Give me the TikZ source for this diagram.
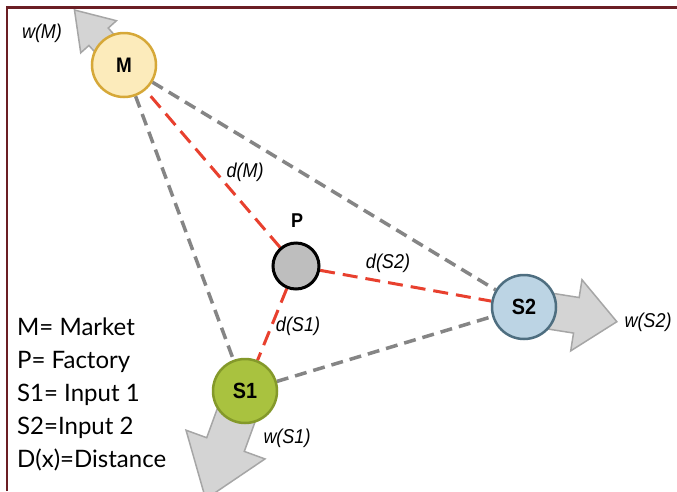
\documentclass[tikz,border=0pt]{standalone}
\usepackage{fontspec}
\setmainfont{Liberation Sans}
\newfontfamily\lblfont[FakeStretch=0.9]{Liberation Sans}
\newfontfamily\legfont{Lato}
\usetikzlibrary{backgrounds}
\definecolor{frameclr}{HTML}{6B1E24}
\definecolor{mfill}{HTML}{FCEBBB}
\definecolor{mdraw}{HTML}{D6A838}
\definecolor{s1fill}{HTML}{A9C23F}
\definecolor{s1draw}{HTML}{84992A}
\definecolor{s2fill}{HTML}{BCD4E4}
\definecolor{s2draw}{HTML}{4E6E80}
\definecolor{pfill}{HTML}{BEBEBE}
\definecolor{graydash}{HTML}{858585}
\definecolor{reddash}{HTML}{E8402E}
\definecolor{arrfill}{HTML}{D4D4D4}
\definecolor{arrdraw}{HTML}{A6A6A6}
\newcommand\fatarrow[7]{%
  \begin{scope}[shift={(#1)},rotate=#2]
    \draw[arrowsty] (0,-#4) -- (#6,-#4) -- (#6,-#5) -- (#3,0) -- (#6,#5) -- (#6,#4) -- (0,#4) -- cycle;
  \end{scope}}
\tikzset{
  site/.style={circle, minimum size=64pt, inner sep=0pt, line width=2.5pt,
    font=\lblfont\bfseries\fontsize{22}{24}\selectfont},
  trilink/.style={draw=graydash, line width=3.5pt, dash pattern=on 12pt off 7pt},
  plink/.style={draw=reddash, line width=3pt, dash pattern=on 15pt off 8pt},
  arrowsty/.style={fill=arrfill, draw=arrdraw, line width=1.5pt, line join=miter},
  lbl/.style={font=\lblfont\itshape\fontsize{20}{24}\selectfont, inner sep=0pt},
  leg/.style={font=\legfont\fontsize{24}{26}\selectfont, anchor=base west, inner sep=0pt},
}
\begin{document}
\begin{tikzpicture}[x=1pt,y=-1pt]
\useasboundingbox (0,0) rectangle (677,491);
% sites
\node[site, fill=mfill, draw=mdraw, font=\lblfont\bfseries\fontsize{21}{24}\selectfont] (M) at (124,65) {M};
\node[site, fill=s1fill, draw=s1draw] (S1) at (245,391) {S1};
\node[site, fill=s2fill, draw=s2draw] (S2) at (524,307) {S2};
\node[circle, minimum size=46pt, inner sep=0pt, fill=pfill, draw=black, line width=3pt] (P) at (296,266) {};
\begin{scope}[on background layer]
  \fill[white] (0,0) rectangle (677,491);
  \draw[trilink] (M) -- (S2);
  \draw[trilink] (M) -- (S1);
  \draw[trilink] (S1) -- (S2);
  \draw[plink] (P) -- (M);
  \draw[plink] (P) -- (S1);
  \draw[plink] (P) -- (S2);
  \begin{scope}
    \clip (8,8) rectangle (677,491);
    \fatarrow{M.center}{132}{74}{13}{24}{38}{}
    \fatarrow{S1.center}{-110}{115}{20}{42}{57}{}
    \fatarrow{S2.center}{-9}{94}{18}{36}{53}{}
  \end{scope}
\end{scope}
% labels
\node[lbl] (wM) at (42,33) {w(M)};
\node[lbl] (dM) at (245,172) {d(M)};
\node[font=\lblfont\bfseries\fontsize{20}{24}\selectfont, inner sep=0pt] (Plbl) at (297,221) {P};
\node[lbl] (dS2) at (388,263) {d(S2)};
\node[lbl] (dS1) at (298,326) {d(S1)};
\node[lbl] (wS2) at (648,322) {w(S2)};
\node[lbl] (wS1) at (287,438) {w(S1)};
% legend
\node[leg] (l1) at (17,335) {M= Market};
\node[leg] (l2) at (17,368) {P= Factory};
\node[leg] (l3) at (17,401) {S1= Input 1};
\node[leg] (l4) at (17,434) {S2=Input 2};
\node[leg] (l5) at (17,467) {D(x)=Distance};
% frame
\draw[frameclr, line width=2.5pt] (7,491) -- (7,7.5) -- (677,7.5);
\end{tikzpicture}
\end{document}
